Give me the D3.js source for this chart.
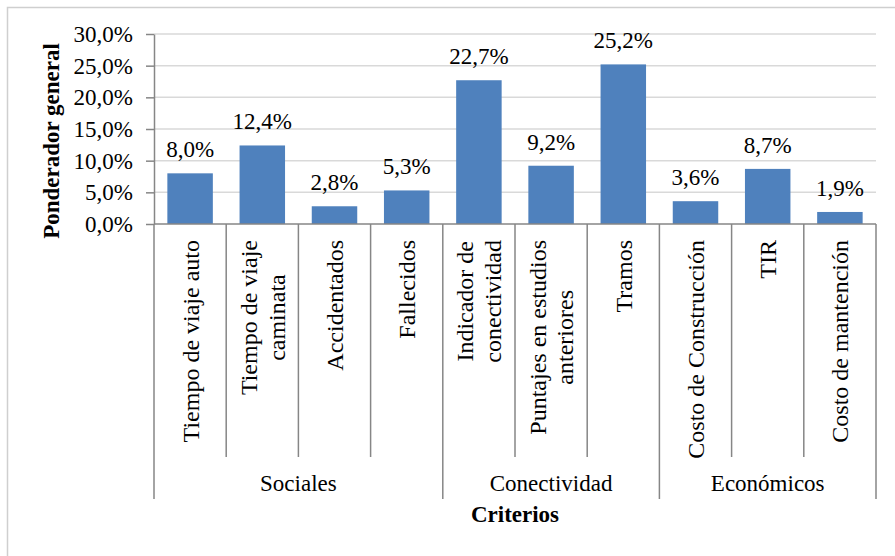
<!DOCTYPE html>
<html>
<head>
<meta charset="utf-8">
<script src="https://cdn.jsdelivr.net/npm/d3@7"></script>
<style>
  body { margin: 0; background: #fff; }
</style>
</head>
<body>
<svg id="chart"></svg>
<script>
var categorias = ["Tiempo de viaje auto", "Tiempo de viaje\ncaminata", "Accidentados", "Fallecidos",
    "Indicador de\nconectividad", "Puntajes en estudios\nanteriores", "Tramos",
    "Costo de Construcción", "TIR", "Costo de mantención"];
var valores = [0.080, 0.124, 0.028, 0.053, 0.227, 0.092, 0.252, 0.036, 0.087, 0.019];
var grupos = ["Sociales", "Conectividad", "Económicos"];
var tamanoGrupos = [4, 3, 3];
var yTicks = [0, 0.05, 0.10, 0.15, 0.20, 0.25, 0.30];

var width = 895, height = 556;
var plot = { left: 154, right: 876, top: 34, bottom: 224 };
var fuente = "'Liberation Serif', 'Times New Roman', serif";
var gris = "#868686";

var svg = d3.select("#chart")
    .attr("width", width)
    .attr("height", height);

// marco exterior (recortado a la derecha y abajo)
svg.append("rect")
    .attr("x", 7.5).attr("y", 7.5)
    .attr("width", 900).attr("height", 560)
    .attr("fill", "none")
    .attr("stroke", "#cfcfcf")
    .attr("stroke-width", 1.5);

var es = d3.formatLocale({ decimal: ",", thousands: ".", grouping: [3], currency: ["", "€"] });
var pct = es.format(".1%");

var y = d3.scaleLinear().domain([0, 0.30]).range([plot.bottom, plot.top]);
var x = d3.scaleBand()
    .domain(d3.range(categorias.length))
    .range([plot.left, plot.right])
    .paddingInner(0.37)
    .paddingOuter(0.185);

// lineas de grilla
svg.append("g")
    .selectAll("line")
    .data(yTicks.slice(1))
    .enter().append("line")
    .attr("x1", plot.left).attr("x2", plot.right)
    .attr("y1", function(d) { return y(d); })
    .attr("y2", function(d) { return y(d); })
    .attr("stroke", "#d9d9d9")
    .attr("stroke-width", 1.5);

var yAxis = d3.axisLeft(y).tickValues(yTicks).tickFormat(pct).tickSize(8).tickSizeOuter(0).tickPadding(13);
var gy = svg.append("g")
    .attr("class", "y axis")
    .attr("transform", "translate(" + plot.left + ",0)")
    .call(yAxis);
gy.selectAll("path, line").attr("stroke", gris).attr("stroke-width", 1.5);
gy.selectAll("text")
    .style("font-family", fuente)
    .style("font-size", "23px")
    .attr("fill", "#000");

// barras
svg.append("g")
    .selectAll("rect")
    .data(valores)
    .enter().append("rect")
    .attr("x", function(d, i) { return x(i); })
    .attr("y", function(d) { return y(d); })
    .attr("width", x.bandwidth())
    .attr("height", function(d) { return y(0) - y(d); })
    .attr("fill", "#4f81bd");

// etiquetas de datos
svg.append("g")
    .selectAll("text")
    .data(valores)
    .enter().append("text")
    .attr("x", function(d, i) { return x(i) + x.bandwidth() / 2; })
    .attr("y", function(d) { return y(d) - 16; })
    .attr("text-anchor", "middle")
    .style("font-family", fuente)
    .style("font-size", "23px")
    .text(function(d) { return pct(d); });

// eje x (linea base + separadores)
var step = x.step();
var borde = function(k) { return x(0) - step * x.paddingInner() / 2 + k * step; };

svg.append("line")
    .attr("x1", plot.left).attr("x2", plot.right)
    .attr("y1", plot.bottom).attr("y2", plot.bottom)
    .attr("stroke", gris).attr("stroke-width", 1.5);

svg.append("g")
    .selectAll("line")
    .data(d3.range(categorias.length + 1))
    .enter().append("line")
    .attr("x1", function(k) { return borde(k); })
    .attr("x2", function(k) { return borde(k); })
    .attr("y1", plot.bottom)
    .attr("y2", 457)
    .attr("stroke", gris).attr("stroke-width", 1.5);

var limites = [0];
tamanoGrupos.forEach(function(n, i) { limites.push(limites[i] + n); });

svg.append("g")
    .selectAll("line")
    .data(limites)
    .enter().append("line")
    .attr("x1", function(k) { return borde(k); })
    .attr("x2", function(k) { return borde(k); })
    .attr("y1", 457)
    .attr("y2", 499)
    .attr("stroke", gris).attr("stroke-width", 1.5);

// etiquetas de categorias (rotadas, alineadas arriba)
var lh = 28;
var cat = svg.append("g")
    .selectAll("g")
    .data(categorias)
    .enter().append("g")
    .attr("transform", function(d, i) {
        return "translate(" + (x(i) + x.bandwidth() / 2) + ",240) rotate(-90)";
    });

cat.each(function(d) {
    var g = d3.select(this);
    var lineas = d.split("\n");
    var t = g.selectAll("text")
        .data(lineas)
        .enter().append("text")
        .attr("text-anchor", "middle")
        .attr("y", function(l, j) { return (j - (lineas.length - 1) / 2) * lh; })
        .attr("dy", "0.35em")
        .style("font-family", fuente)
        .style("font-size", "24px")
        .text(function(l) { return l; });
    var maxLen = d3.max(t.nodes(), function(n) { return n.getComputedTextLength(); });
    t.attr("x", -maxLen / 2);
});

// etiquetas de grupos
svg.append("g")
    .selectAll("text")
    .data(grupos)
    .enter().append("text")
    .attr("x", function(d, i) { return (borde(limites[i]) + borde(limites[i + 1])) / 2; })
    .attr("y", 491)
    .attr("text-anchor", "middle")
    .style("font-family", fuente)
    .style("font-size", "23px")
    .text(function(d) { return d; });

// titulos de ejes
svg.append("text")
    .attr("x", (plot.left + plot.right) / 2)
    .attr("y", 522)
    .attr("text-anchor", "middle")
    .style("font-family", fuente)
    .style("font-size", "23px")
    .style("font-weight", "bold")
    .text("Criterios");

svg.append("text")
    .attr("transform", "translate(59,141) rotate(-90)")
    .attr("text-anchor", "middle")
    .style("font-family", fuente)
    .style("font-size", "23px")
    .style("font-weight", "bold")
    .text("Ponderador general");
</script>
</body>
</html>
